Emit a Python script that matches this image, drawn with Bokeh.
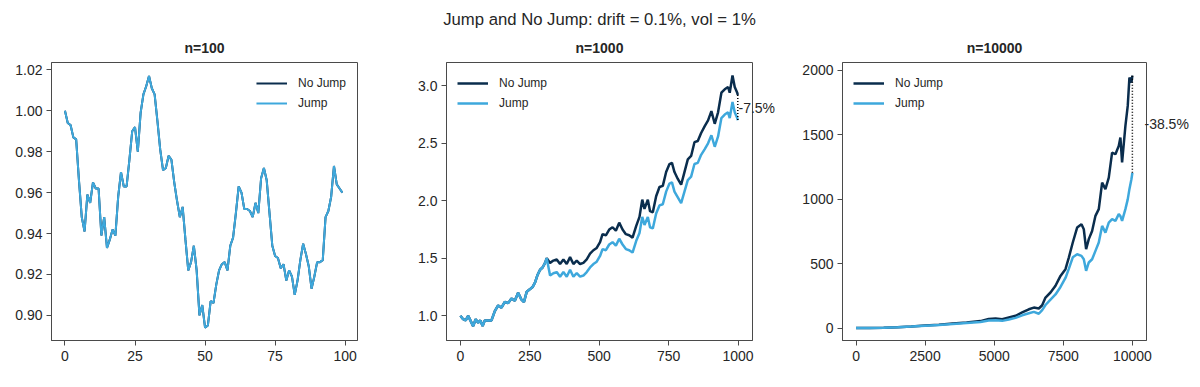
from bokeh.plotting import figure
from bokeh.layouts import row
from bokeh.models import (Title, Range1d, FixedTicker, NumeralTickFormatter,
                          LinearAxis, CustomJSTickFormatter)
from bokeh.embed import file_html
from bokeh.resources import INLINE

# ---------------- data ----------------
suptitle = "Jump and No Jump: drift = 0.1%, vol = 1%"
panel_titles = ["n=100", "n=1000", "n=10000"]
series_names = ["No Jump", "Jump"]

# n = 100 : both paths identical (no jump happened)
x100 = list(range(100))
path100 = [1.000, 0.994, 0.993, 0.987, 0.986, 0.966, 0.948, 0.941, 0.959, 0.955,
           0.965, 0.962, 0.962, 0.939, 0.948, 0.933, 0.937, 0.942, 0.939, 0.958,
           0.970, 0.963, 0.963, 0.976, 0.990, 0.992, 0.980, 0.999, 1.008, 1.012,
           1.017, 1.011, 1.008, 0.995, 0.981, 0.971, 0.972, 0.978, 0.976, 0.965,
           0.956, 0.948, 0.953, 0.937, 0.922, 0.926, 0.934, 0.922, 0.900, 0.905,
           0.894, 0.895, 0.907, 0.906, 0.915, 0.922, 0.925, 0.926, 0.922, 0.934,
           0.938, 0.950, 0.963, 0.960, 0.952, 0.952, 0.951, 0.948, 0.955, 0.950,
           0.967, 0.972, 0.966, 0.950, 0.934, 0.929, 0.928, 0.923, 0.925, 0.917,
           0.922, 0.919, 0.910, 0.917, 0.927, 0.935, 0.930, 0.924, 0.913, 0.919,
           0.926, 0.926, 0.927, 0.948, 0.951, 0.958, 0.973, 0.964, 0.962, 0.960]

# n = 1000 : common path before the jump, then the two paths
pre1000_x = [0, 10, 19, 28, 36, 46, 55, 64, 72, 80, 88, 100, 112, 124, 136, 148,
             160, 172, 184, 196, 208, 220, 229, 239, 250, 260, 269, 277, 287, 296,
             305, 311]
pre1000_y = [1.00, 0.97, 0.96, 1.00, 0.96, 0.91, 0.97, 0.94, 0.96, 0.91, 0.96, 0.96,
             0.96, 1.04, 1.09, 1.07, 1.12, 1.11, 1.15, 1.13, 1.20, 1.14, 1.12, 1.21,
             1.23, 1.25, 1.29, 1.35, 1.40, 1.42, 1.46, 1.50]
post1000_x = [323, 335, 347, 359, 371, 383, 395, 407, 419, 431, 443, 455, 467, 479,
              491, 503, 512, 524, 536, 548, 560, 572, 584, 596, 608, 620, 633, 645,
              655, 663, 675, 683, 693, 705, 717, 729, 741, 753, 762, 771, 783, 795,
              807, 819, 831, 843, 855, 867, 880, 892, 904, 916, 928, 940, 952, 964,
              970, 980, 988, 997, 999]
post1000_nojump = [1.46, 1.48, 1.49, 1.45, 1.49, 1.45, 1.51, 1.45, 1.48, 1.45, 1.46,
                   1.49, 1.54, 1.57, 1.59, 1.64, 1.71, 1.70, 1.75, 1.77, 1.74, 1.81,
                   1.75, 1.71, 1.70, 1.68, 1.78, 1.86, 2.01, 1.93, 2.01, 1.91, 1.90,
                   2.04, 2.12, 2.13, 2.25, 2.32, 2.33, 2.25, 2.19, 2.14, 2.25, 2.36,
                   2.39, 2.51, 2.52, 2.59, 2.65, 2.70, 2.78, 2.67, 2.77, 2.94, 2.97,
                   2.99, 2.94, 3.09, 2.99, 2.94, 2.92]
post1000_jump = [1.35, 1.37, 1.38, 1.34, 1.38, 1.34, 1.40, 1.34, 1.37, 1.34, 1.35,
                 1.38, 1.42, 1.45, 1.47, 1.52, 1.58, 1.57, 1.62, 1.64, 1.61, 1.67,
                 1.62, 1.58, 1.57, 1.55, 1.65, 1.72, 1.86, 1.79, 1.86, 1.77, 1.76,
                 1.89, 1.96, 1.97, 2.08, 2.15, 2.16, 2.08, 2.03, 1.98, 2.08, 2.18,
                 2.21, 2.32, 2.33, 2.40, 2.45, 2.50, 2.57, 2.47, 2.56, 2.72, 2.75,
                 2.77, 2.72, 2.86, 2.77, 2.72, 2.70]

# n = 10000
x10000 = [0, 500, 1000, 1500, 2000, 2500, 3000, 3500, 4000, 4500, 4800, 5048, 5289,
          5530, 5771, 6012, 6253, 6434, 6614, 6735, 6855, 7036, 7217, 7398, 7578,
          7699, 7843, 8000, 8157, 8241, 8325, 8422, 8542, 8663, 8783, 8904, 9024,
          9145, 9265, 9386, 9506, 9566, 9627, 9747, 9831, 9892, 9964, 9999]
nojump10000 = [1, 2, 4, 8, 13, 20, 27, 36, 45, 55, 72, 75, 70, 83, 96, 122, 147, 160,
               153, 178, 238, 277, 329, 406, 458, 548, 665, 781, 807, 768, 613, 691,
               755, 872, 924, 1130, 1079, 1169, 1363, 1350, 1415, 1480, 1286, 1570,
               1725, 1945, 1907, 1960]
jump10000 = [1, 2, 4, 8, 13, 19, 25, 32, 40, 48, 60, 62, 57, 68, 80, 100, 116, 127,
             112, 140, 180, 222, 262, 320, 390, 460, 550, 574, 561, 535, 445, 510,
             535, 600, 665, 794, 742, 820, 846, 833, 885, 870, 833, 924, 1000, 1079,
             1156, 1205]

x_ticks = [[0, 25, 50, 75, 100], [0, 250, 500, 750, 1000], [0, 2500, 5000, 7500, 10000]]
y_ticks = [[0.90, 0.92, 0.94, 0.96, 0.98, 1.00, 1.02],
           [1.0, 1.5, 2.0, 2.5, 3.0],
           [0, 500, 1000, 1500, 2000]]
y_formats = ["0.00", "0.0", "0"]

# ---------------- style ----------------
DARK = "#0a2d4d"
LIGHT = "#3ea8dc"
FONT = "Liberation Sans"
TXT = "#262626"
AX = "#4a4a4a"
TOP = 62
FRAME_H = 278
BOTTOM = 45


def make_fig(xr, yr, xt, yt, yfmt, bl, br, fw, title_text, legend_loc, extra_title=None):
    p = figure(frame_width=fw, frame_height=FRAME_H,
               x_range=Range1d(*xr), y_range=Range1d(*yr),
               output_backend="svg", toolbar_location=None, title=None,
               min_border_left=bl, min_border_right=br,
               min_border_top=TOP, min_border_bottom=BOTTOM,
               background_fill_color="white", border_fill_color="white")
    p.grid.visible = False
    p.outline_line_color = AX
    p.outline_line_width = 1
    for ax in (p.xaxis[0], p.yaxis[0]):
        ax.axis_line_color = AX
        ax.major_tick_line_color = AX
        ax.major_tick_out = 5
        ax.major_tick_in = 0
        ax.minor_tick_line_color = None
        ax.major_label_text_font = FONT
        ax.major_label_text_font_size = "14px"
        ax.major_label_text_color = TXT
    p.xaxis[0].major_label_standoff = 5
    p.yaxis[0].major_label_standoff = 4
    p.xaxis[0].ticker = FixedTicker(ticks=xt)
    p.yaxis[0].ticker = FixedTicker(ticks=yt)
    p.yaxis[0].formatter = NumeralTickFormatter(format=yfmt)
    p.xaxis[0].formatter = NumeralTickFormatter(format="0")

    sub = Title(text=title_text, align="center", text_font=FONT, text_font_size="14px",
                text_font_style="bold", text_color=TXT, standoff=13)
    p.add_layout(sub, "above")
    if extra_title is not None:
        sup = Title(text=extra_title, align="center", text_font=FONT,
                    text_font_size="16.7px", text_font_style="normal",
                    text_color=TXT, standoff=5)
        p.add_layout(sup, "above")
    p._legend_loc = legend_loc
    return p


def style_legend(p):
    lg = p.legend[0]
    lg.location = p._legend_loc
    lg.border_line_color = None
    lg.background_fill_alpha = 0
    lg.label_text_font = FONT
    lg.label_text_font_size = "12px"
    lg.label_text_color = TXT
    lg.glyph_width = 31
    lg.glyph_height = 20
    lg.label_height = 20
    lg.label_standoff = 11
    lg.spacing = 0
    lg.margin = 11
    lg.padding = 0


def add_gap(p, xs, nj, jp, standoff):
    xe = xs[-1]
    p.segment(x0=[xe], y0=[nj[-1]], x1=[xe], y1=[jp[-1]], line_color="black",
              line_width=1.5, line_dash="1 2")
    pct = jp[-1] / nj[-1] - 1
    mid = (nj[-1] + jp[-1]) / 2
    txt = f"{pct:.1%}"
    ax = LinearAxis(ticker=FixedTicker(ticks=[mid]),
                    formatter=CustomJSTickFormatter(code='return "%s"' % txt),
                    axis_line_color=None, major_tick_line_color=None,
                    minor_tick_line_color=None, major_tick_out=0, major_tick_in=0,
                    major_label_standoff=standoff,
                    major_label_text_font=FONT, major_label_text_font_size="14px",
                    major_label_text_color=TXT)
    p.add_layout(ax, "right")


# panel 1
p1 = make_fig((-4.8, 104.4), (0.8877, 1.0236), x_ticks[0], y_ticks[0], y_formats[0],
              51, 43, 306, panel_titles[0], "top_right")
p1.line(x100, path100, line_color=DARK, line_width=2, legend_label=series_names[0])
p1.line(x100, path100, line_color=LIGHT, line_width=2, legend_label=series_names[1])
style_legend(p1)

# panel 2
x1000 = pre1000_x + post1000_x
nojump1000 = pre1000_y + post1000_nojump
jump1000 = pre1000_y + post1000_jump
p2 = make_fig((-50, 1052), (0.785, 3.203), x_ticks[1], y_ticks[1], y_formats[1],
              46, 43, 306, panel_titles[1], "top_left", extra_title=suptitle)
p2.line(x1000, nojump1000, line_color=DARK, line_width=2.5, legend_label=series_names[0])
p2.line(x1000, jump1000, line_color=LIGHT, line_width=2.5, legend_label=series_names[1])
add_gap(p2, x1000, nojump1000, jump1000, -14)
style_legend(p2)

# panel 3
p3 = make_fig((-490, 10510), (-95.5, 2062), x_ticks[2], y_ticks[2], y_formats[2],
              47, 46, 304, panel_titles[2], "top_left")
p3.line(x10000, nojump10000, line_color=DARK, line_width=2.5, legend_label=series_names[0])
p3.line(x10000, jump10000, line_color=LIGHT, line_width=2.5, legend_label=series_names[1])
add_gap(p3, x10000, nojump10000, jump10000, -2)
style_legend(p3)

layout = row(p1, p2, p3, spacing=0)
open("out.html", "w").write(file_html(layout, INLINE))
